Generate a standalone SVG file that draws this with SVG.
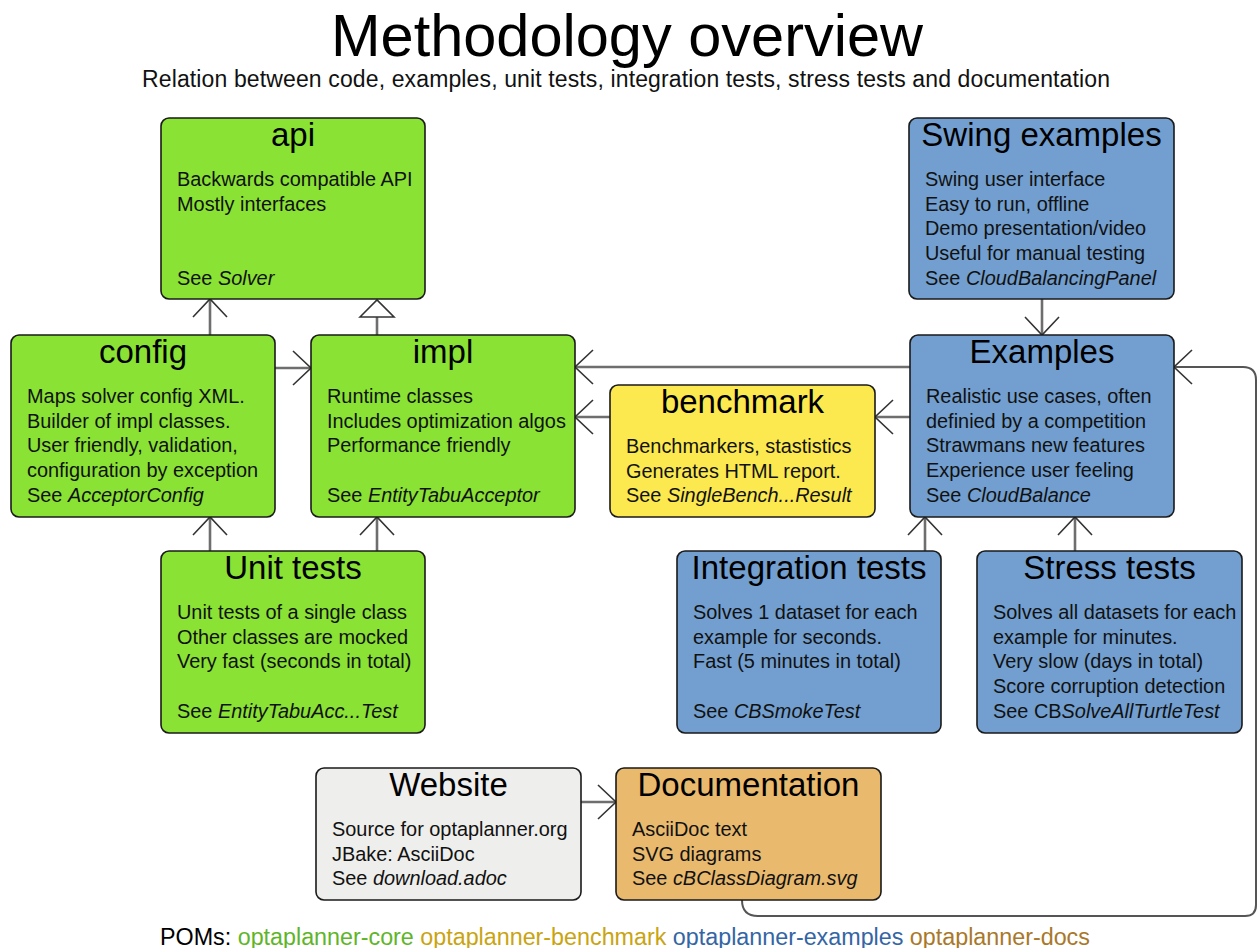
<svg xmlns="http://www.w3.org/2000/svg" width="1258" height="948" viewBox="0 0 1258 948">
<style>
text{font-family:"Liberation Sans",Arial,sans-serif;fill:#000}
.h{font-size:59.5px;text-anchor:middle}
.sub{font-size:23px;text-anchor:middle;fill:#111}
.t{font-size:33px;text-anchor:middle}
.b{font-size:19.9px;fill:#111}
.i{font-style:italic}
.box{stroke:#1a1a1a;stroke-width:1.6}
.green{fill:#8ae234}.yellow{fill:#fce94f}.blue{fill:#729fcf}.grey{fill:#eeeeec}.orange{fill:#e9b96e}
.c{fill:none;stroke:#6e6e6e;stroke-width:2.6}
.loop{fill:none;stroke:#555;stroke-width:2}
.foot{font-size:23.3px}
</style>
<defs>
<marker id="open" markerUnits="userSpaceOnUse" markerWidth="40" markerHeight="40" viewBox="-20 -20 40 40" refX="0" refY="0" orient="auto">
<path d="M -18 -17 L 0 0 L -18 17" fill="none" stroke="#333" stroke-width="1.6"/>
</marker>
<marker id="tri" markerUnits="userSpaceOnUse" markerWidth="40" markerHeight="40" viewBox="-20 -20 40 40" refX="0" refY="0" orient="auto">
<path d="M -17 -17 L 0 0 L -17 17 Z" fill="#fff" stroke="#333" stroke-width="1.6"/>
</marker>
</defs>
<rect width="1258" height="948" fill="#fff"/>
<text class="h" x="627" y="56">Methodology overview</text>
<text class="sub" x="626" y="87" textLength="968">Relation between code, examples, unit tests, integration tests, stress tests and documentation</text>

<g id="connectors">
<path class="c" d="M210 335 V299" marker-end="url(#open)"/>
<path class="c" d="M377 335 V300" marker-end="url(#tri)"/>
<path class="c" d="M275 368 H311" marker-end="url(#open)"/>
<path class="c" d="M210 551 V517" marker-end="url(#open)"/>
<path class="c" d="M377 551 V517" marker-end="url(#open)"/>
<path class="c" d="M910 367 H575" marker-end="url(#open)"/>
<path class="c" d="M910 417 H875" marker-end="url(#open)"/>
<path class="c" d="M610 417 H575" marker-end="url(#open)"/>
<path class="c" d="M1042 299 V335" marker-end="url(#open)"/>
<path class="c" d="M925 551 V517" marker-end="url(#open)"/>
<path class="c" d="M1075 551 V517" marker-end="url(#open)"/>
<path class="c" d="M581 802 H616" marker-end="url(#open)"/>
<path class="loop" d="M742 900 Q742 916 758 916 H1245 Q1256 916 1256 905 V380 Q1256 367 1243 367 H1174" marker-end="url(#open)"/>
</g>

<g id="api">
<rect class="box green" x="161" y="118" width="264" height="181" rx="8"/>
<text class="t" x="293" y="146">api</text>
<text class="b" x="177" y="186">Backwards compatible API</text>
<text class="b" x="177" y="210.7">Mostly interfaces</text>
<text class="b" x="177" y="284.7">See <tspan class="i">Solver</tspan></text>
</g>

<g id="config">
<rect class="box green" x="11" y="335" width="264" height="182" rx="8"/>
<text class="t" x="143" y="363">config</text>
<text class="b" x="27" y="403">Maps solver config XML.</text>
<text class="b" x="27" y="427.7">Builder of impl classes.</text>
<text class="b" x="27" y="452.4">User friendly, validation,</text>
<text class="b" x="27" y="477.1">configuration by exception</text>
<text class="b" x="27" y="501.8">See <tspan class="i">AcceptorConfig</tspan></text>
</g>

<g id="impl">
<rect class="box green" x="311" y="335" width="264" height="182" rx="8"/>
<text class="t" x="443" y="363">impl</text>
<text class="b" x="327" y="403">Runtime classes</text>
<text class="b" x="327" y="427.7">Includes optimization algos</text>
<text class="b" x="327" y="452.4">Performance friendly</text>
<text class="b" x="327" y="501.8">See <tspan class="i">EntityTabuAcceptor</tspan></text>
</g>

<g id="unit-tests">
<rect class="box green" x="161" y="551" width="264" height="182" rx="8"/>
<text class="t" x="293" y="579">Unit tests</text>
<text class="b" x="177" y="619">Unit tests of a single class</text>
<text class="b" x="177" y="643.7">Other classes are mocked</text>
<text class="b" x="177" y="668.4">Very fast (seconds in total)</text>
<text class="b" x="177" y="717.8">See <tspan class="i">EntityTabuAcc...Test</tspan></text>
</g>

<g id="benchmark">
<rect class="box yellow" x="610" y="385" width="265" height="132" rx="8"/>
<text class="t" x="742.5" y="413">benchmark</text>
<text class="b" x="626" y="453">Benchmarkers, stastistics</text>
<text class="b" x="626" y="477.7">Generates HTML report.</text>
<text class="b" x="626" y="502.4">See <tspan class="i">SingleBench...Result</tspan></text>
</g>

<g id="swing-examples">
<rect class="box blue" x="909" y="118" width="265" height="181" rx="8"/>
<text class="t" x="1041.5" y="146">Swing examples</text>
<text class="b" x="925" y="186">Swing user interface</text>
<text class="b" x="925" y="210.7">Easy to run, offline</text>
<text class="b" x="925" y="235.4">Demo presentation/video</text>
<text class="b" x="925" y="260.1">Useful for manual testing</text>
<text class="b" x="925" y="284.7">See <tspan class="i">CloudBalancingPanel</tspan></text>
</g>

<g id="examples">
<rect class="box blue" x="910" y="335" width="264" height="182" rx="8"/>
<text class="t" x="1042" y="363">Examples</text>
<text class="b" x="926" y="403">Realistic use cases, often</text>
<text class="b" x="926" y="427.7">definied by a competition</text>
<text class="b" x="926" y="452.4">Strawmans new features</text>
<text class="b" x="926" y="477.1">Experience user feeling</text>
<text class="b" x="926" y="501.8">See <tspan class="i">CloudBalance</tspan></text>
</g>

<g id="integration-tests">
<rect class="box blue" x="677" y="551" width="264" height="182" rx="8"/>
<text class="t" x="809" y="579">Integration tests</text>
<text class="b" x="693" y="619">Solves 1 dataset for each</text>
<text class="b" x="693" y="643.7">example for seconds.</text>
<text class="b" x="693" y="668.4">Fast (5 minutes in total)</text>
<text class="b" x="693" y="717.8">See <tspan class="i">CBSmokeTest</tspan></text>
</g>

<g id="stress-tests">
<rect class="box blue" x="977" y="551" width="265" height="182" rx="8"/>
<text class="t" x="1109.5" y="579">Stress tests</text>
<text class="b" x="993" y="619">Solves all datasets for each</text>
<text class="b" x="993" y="643.7">example for minutes.</text>
<text class="b" x="993" y="668.4">Very slow (days in total)</text>
<text class="b" x="993" y="693.1">Score corruption detection</text>
<text class="b" x="993" y="717.8">See CB<tspan class="i">SolveAllTurtleTest</tspan></text>
</g>

<g id="website">
<rect class="box grey" x="316" y="768" width="265" height="132" rx="8"/>
<text class="t" x="448.5" y="796">Website</text>
<text class="b" x="332" y="836">Source for optaplanner.org</text>
<text class="b" x="332" y="860.7">JBake: AsciiDoc</text>
<text class="b" x="332" y="885.4">See <tspan class="i">download.adoc</tspan></text>
</g>

<g id="documentation">
<rect class="box orange" x="616" y="768" width="265" height="132" rx="8"/>
<text class="t" x="748.5" y="796">Documentation</text>
<text class="b" x="632" y="836">AsciiDoc text</text>
<text class="b" x="632" y="860.7">SVG diagrams</text>
<text class="b" x="632" y="885.4">See <tspan class="i">cBClassDiagram.svg</tspan></text>
</g>

<text class="foot" x="160" y="945">POMs: <tspan fill="#5fb52a">optaplanner-core</tspan> <tspan fill="#c9a412">optaplanner-benchmark</tspan> <tspan fill="#3465a4">optaplanner-examples</tspan> <tspan fill="#a9782a">optaplanner-docs</tspan></text>
</svg>
